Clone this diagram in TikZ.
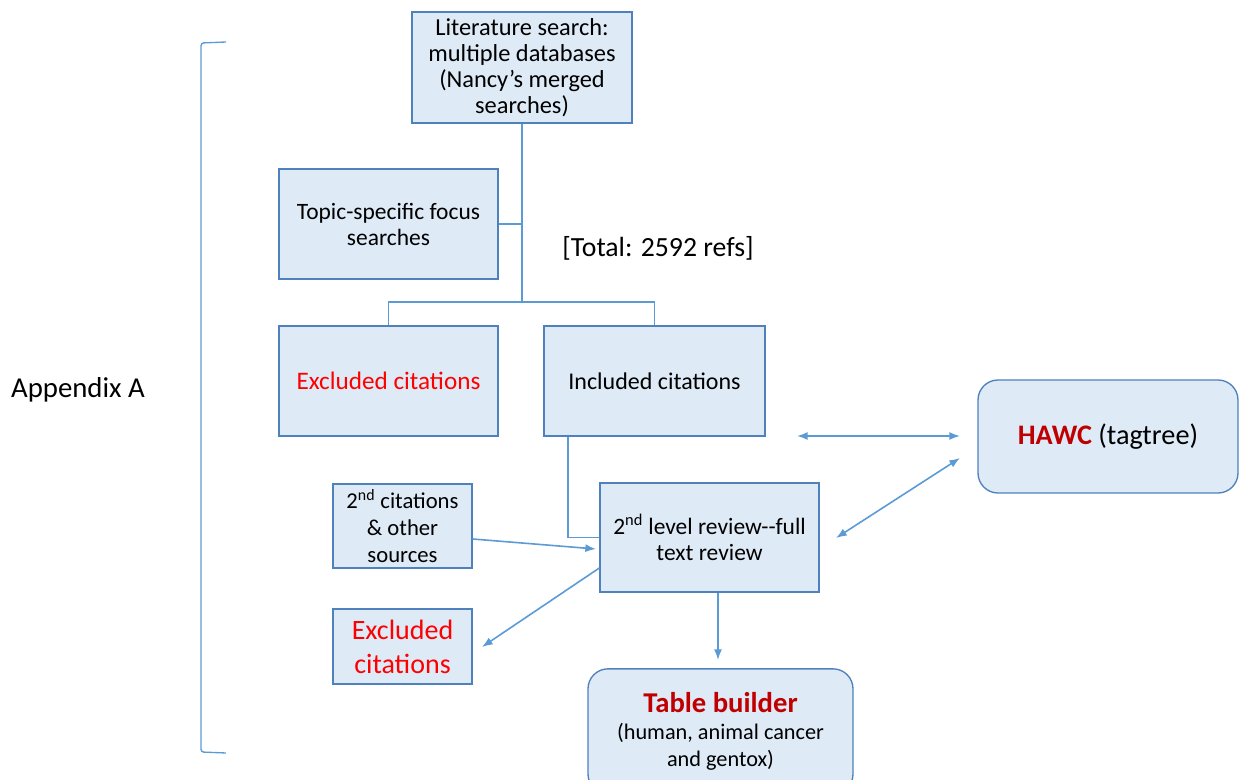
\documentclass[tikz,border=0pt]{standalone}
\usepackage{fontspec}
\setmainfont{Carlito}
\usetikzlibrary{arrows.meta}
\definecolor{boxfill}{RGB}{222,234,246}
\definecolor{boxline}{RGB}{79,129,189}
\definecolor{conn}{RGB}{91,155,213}
\definecolor{darkred}{RGB}{192,0,0}
\definecolor{brightred}{RGB}{255,0,0}
\begin{document}
\begin{tikzpicture}[x=0.75pt,y=-0.75pt,
  box/.style={draw=boxline,fill=boxfill,line width=1pt,align=center,inner sep=1pt,text=black},
  rbox/.style={box,rounded corners=15pt},
  conline/.style={draw=conn,line width=1.2pt},
  arr/.style={conline,-{Latex[length=8pt,width=6pt]}},
  darr/.style={conline,{Latex[length=8pt,width=6pt]}-{Latex[length=8pt,width=6pt]}}
]
\useasboundingbox (0,0) rectangle (1240,780);
% boxes
\node[box,minimum width=165pt,minimum height=83.25pt,font=\fontsize{18.3pt}{19.4pt}\selectfont] (lit) at (522,67.5)
  {Literature search:\\multiple databases\\(Nancy’s merged\\searches)};
\node[box,minimum width=164.25pt,minimum height=82.5pt,font=\fontsize{17.6pt}{19.5pt}\selectfont] (topic) at (388.5,224)
  {Topic-specific focus\\searches};
\node[box,minimum width=164.25pt,minimum height=82.5pt,text=brightred,font=\fontsize{18.9pt}{22pt}\selectfont] (exc1) at (388.5,381)
  {Excluded citations};
\node[box,minimum width=165.75pt,minimum height=82.5pt,font=\fontsize{18pt}{22pt}\selectfont] (inc) at (654.5,381)
  {Included citations};
\node[rbox,minimum width=195pt,minimum height=84.75pt,font=\fontsize{21.2pt}{24pt}\selectfont] (hawc) at (1108,436.5)
  {\textbf{\textcolor{darkred}{HAWC}} (tagtree)};
\node[box,minimum width=104.25pt,minimum height=63pt,font=\fontsize{17pt}{20pt}\selectfont] (cit2) at (402.5,526)
  {2\textsuperscript{nd} citations\\\& other\\sources};
\node[box,minimum width=164.25pt,minimum height=81.75pt,font=\fontsize{17.6pt}{19.5pt}\selectfont] (rev) at (709.5,537.5)
  {2\textsuperscript{nd} level review-{}-full\\text review};
\node[box,minimum width=104.25pt,minimum height=56.25pt,text=brightred,font=\fontsize{21pt}{25.5pt}\selectfont] (exc2) at (402.5,646.5)
  {Excluded\\citations};
\node[rbox,minimum width=198.75pt,minimum height=94pt,font=\fontsize{16.7pt}{20.5pt}\selectfont] (tab) at (720.5,731.5)
  {{\fontsize{21.5pt}{23pt}\selectfont\textbf{\textcolor{darkred}{Table builder}}}\\(human, animal cancer\\and gentox)};
% free text
\node[font=\fontsize{21.6pt}{24pt}\selectfont] (app) at (78,390) {Appendix A};
\node[font=\fontsize{20.8pt}{24pt}\selectfont] (total) at (658,248) {[Total: 2592 refs]};
% bracket
\coordinate (bt) at (226,42);
\coordinate (bb) at (226,753);
\draw[conline,line width=1pt,rounded corners=2pt] (bt) -- (201,43) -- (201,752) -- (bb);
% tree connectors
\coordinate (tee) at (522,302);
\draw[conline] (lit.south) -- (tee);
\draw[conline] (topic.east) -- (topic.east -| lit.south);
\draw[conline] (exc1.north) |- (tee) -| (inc.north);
% included to review
\draw[conline] (inc.south -| 568,0) |- (rev.west);
% arrows
\draw[arr] (cit2.east |- 0,539) -- (596,549);
\draw[arr] (rev.west |- 0,568) -- (482,647);
\draw[arr] (rev.south -| 718,0) -- (718,660);
\coordinate (h1) at (797,436);
\draw[darr] (h1) -- (960,436);
\draw[darr] (836,538) -- (960,458);
\end{tikzpicture}
\end{document}
